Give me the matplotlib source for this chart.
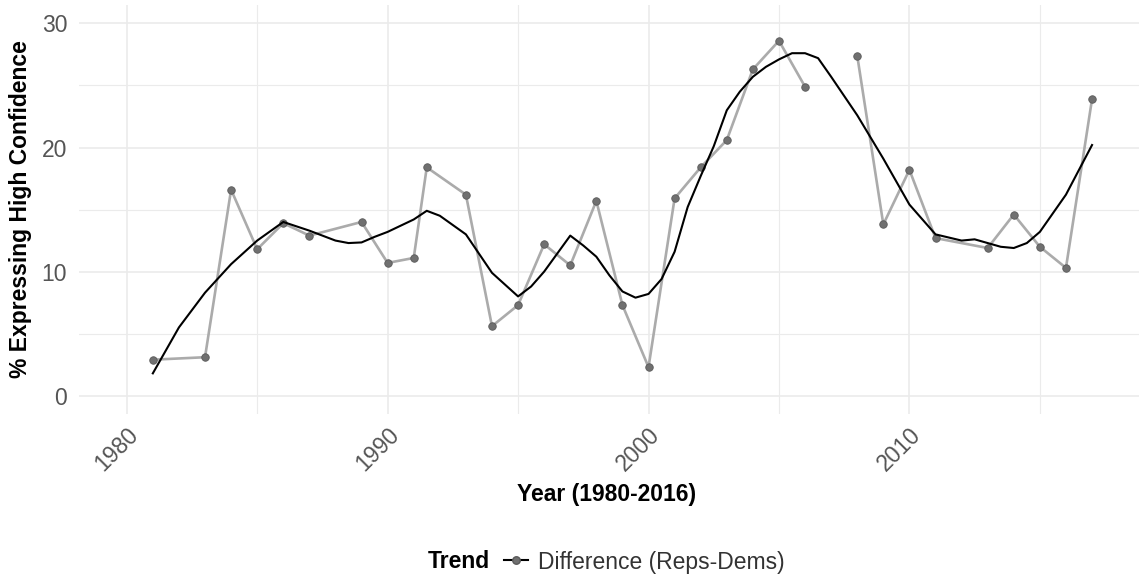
import numpy as np
import matplotlib
matplotlib.use('Agg')
import matplotlib.pyplot as plt
from matplotlib.lines import Line2D
from matplotlib.transforms import ScaledTranslation

plt.rcParams['font.family'] = ['Liberation Sans', 'DejaVu Sans']

# survey years and the Reps-Dems gap (NaN = no survey, breaks the line)
years = [1981, 1983, 1984, 1985, 1986, 1987, 1989, 1990, 1991, 1991.5,
         1993, 1994, 1995, 1996, 1997, 1998, 1999, 2000, 2001, 2002,
         2003, 2004, 2005, 2006, 2007, 2008, 2009, 2010, 2011, 2013,
         2014, 2015, 2016, 2017]
difference = [2.9, 3.1, 16.6, 11.8, 13.9, 12.9, 14.0, 10.7, 11.1, 18.4,
              16.2, 5.6, 7.3, 12.2, 10.5, 15.7, 7.3, 2.3, 15.9, 18.4,
              20.6, 26.3, 28.6, 24.9, np.nan, 27.4, 13.8, 18.2, 12.7, 11.9,
              14.6, 12.0, 10.3, 23.9]

# smoothed trend
trend_x = [1981, 1982, 1983, 1984, 1985, 1986, 1987, 1988, 1988.5, 1989,
           1989.5, 1990, 1991, 1991.5, 1992, 1993, 1994, 1995, 1995.5, 1996,
           1997, 1997.5, 1998, 1998.5, 1999, 1999.5, 2000, 2000.5, 2001, 2001.5,
           2002, 2002.5, 2003, 2003.5, 2004, 2004.5, 2005, 2005.5, 2006, 2006.5,
           2007, 2008, 2009, 2010, 2011, 2012, 2012.5, 2013, 2013.5, 2014,
           2014.5, 2015, 2016, 2017]
trend_y = [1.8, 5.5, 8.3, 10.6, 12.5, 14.0, 13.3, 12.5, 12.3, 12.35,
           12.8, 13.2, 14.2, 14.9, 14.5, 13.0, 9.9, 8.0, 8.8, 10.0,
           12.9, 12.1, 11.2, 9.7, 8.4, 7.9, 8.2, 9.4, 11.6, 15.2,
           17.7, 20.1, 23.0, 24.5, 25.7, 26.5, 27.1, 27.6, 27.6, 27.2,
           25.7, 22.6, 19.1, 15.4, 13.0, 12.5, 12.6, 12.3, 12.0, 11.9,
           12.3, 13.2, 16.2, 20.2]

x_major = [1980, 1990, 2000, 2010]
x_minor = [1985, 1995, 2005, 2015]
y_major = [0, 10, 20, 30]
y_minor = [5, 15, 25]

FS = 16.5
W, H = 1139, 575
fig = plt.figure(figsize=(W / 100, H / 100), dpi=100)
ax = fig.add_axes([79 / W, 1 - 414.3 / H, 1 - 79 / W, (414.3 - 4.8) / H])

ax.plot(years, difference, color='#ababab', lw=1.9, zorder=2)
ax.plot(years, difference, 'o', ms=5.4, color='#707070', mec='#5a5a5a', mew=0.6, zorder=3)
ax.plot(trend_x, trend_y, color='black', lw=1.5, zorder=4, solid_joinstyle='round')

ax.set_xlim(1978.17, 2018.8)
ax.set_ylim(-1.5, 31.5)
ax.set_xticks(x_major)
ax.set_xticks(x_minor, minor=True)
ax.set_yticks(y_major)
ax.set_yticks(y_minor, minor=True)
ax.grid(which='major', color='#ebebeb', lw=1.2)
ax.grid(which='minor', color='#ebebeb', lw=0.8)
ax.set_axisbelow(True)
for s in ax.spines.values():
    s.set_visible(False)

ax.tick_params(which='both', length=0)
ax.tick_params(axis='y', pad=8.5, labelsize=FS, labelcolor='#555555')
ax.tick_params(axis='x', pad=0, labelsize=FS, labelcolor='#555555')
for lab in ax.get_xticklabels():
    lab.set_rotation(45)
    lab.set_ha('center')
    lab.set_va('center')
    lab.set_transform(lab.get_transform() + ScaledTranslation(-0.10, -0.35, fig.dpi_scale_trans))

fig.text(607 / W, 1 - 495 / H, 'Year (1980-2016)', ha='center', va='center',
         fontsize=FS, fontweight='bold')
fig.text(21 / W, 1 - 209.5 / H, '% Expressing High Confidence', ha='center', va='center',
         rotation=90, fontsize=FS, fontweight='bold')

# legend at the bottom
fig.text(428 / W, 1 - 562 / H, 'Trend', ha='left', va='center', fontsize=FS, fontweight='bold')
key = Line2D([], [], color='black', lw=1.5, marker='o', ms=5.4, mfc='#707070', mec='#5a5a5a')
fig.legend([key], ['Difference (Reps-Dems)'], loc='center left',
           bbox_to_anchor=(504 / W, 1 - 562 / H), frameon=False, fontsize=FS,
           handlelength=1.05, handletextpad=0.45, borderpad=0, borderaxespad=0,
           labelcolor='#333333')

fig.savefig('out.png', dpi=100)
